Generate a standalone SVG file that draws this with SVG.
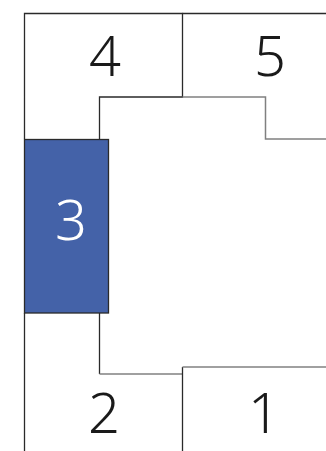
<svg xmlns="http://www.w3.org/2000/svg" width="326" height="451" viewBox="0 0 326 451">
<style>
.ln{fill:none;stroke:#2a2a2a;stroke-width:1.3}
.lg{fill:none;stroke:#808080;stroke-width:1.5}
.t{font-family:"Noto Sans","Liberation Sans",sans-serif;font-weight:300;font-size:56px;text-anchor:middle;fill:#1a1a1a}
</style>
<rect width="326" height="451" fill="#ffffff"/>
<g id="node4">
<path class="ln" d="M24.5,139 V13.5 H182.5 V97 H99.5 V139"/>
<text class="t" x="105" y="76">4</text>
</g>
<g id="node5">
<path class="ln" d="M182.5,13.5 H326"/>
<path class="lg" d="M182.5,97 H265.5 V139 H326"/>
<text class="t" x="270" y="76">5</text>
</g>
<g id="node3">
<rect x="24.5" y="139.5" width="84" height="173.5" fill="#4462a8" stroke="#2a2a2a" stroke-width="1.3"/>
<text class="t" x="71" y="240" style="fill:#ffffff">3</text>
</g>
<g id="node2">
<path class="ln" d="M24.5,313 V451"/>
<path class="ln" d="M99.5,313 V374"/>
<path class="lg" d="M99.5,374 H182.5"/>
<text class="t" x="104" y="432.5">2</text>
</g>
<g id="node1">
<path class="ln" d="M182.5,451 V367"/>
<path class="lg" d="M182.5,367 H326"/>
<text class="t" x="264" y="432.5">1</text>
</g>
<g id="connectors"></g>
</svg>
